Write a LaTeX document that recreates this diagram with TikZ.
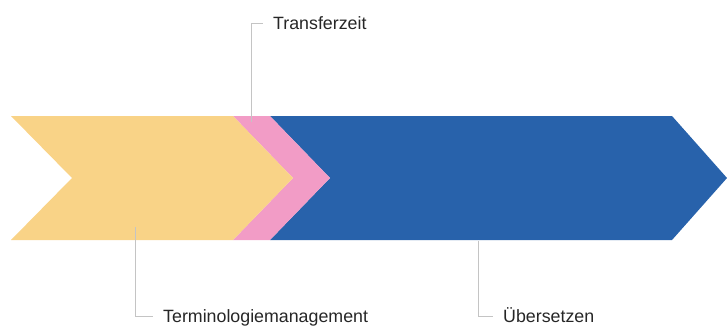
\documentclass[tikz,border=0pt]{standalone}
\usepackage{fontspec}
\setmainfont{Liberation Sans}
\definecolor{cyellow}{HTML}{F9D387}
\definecolor{cpink}{HTML}{F29CC6}
\definecolor{cblue}{HTML}{2862AB}
\definecolor{cline}{HTML}{C4C4C4}
\definecolor{ctext}{HTML}{262626}
\tikzset{
  callout/.style={draw=cline, line width=0.9pt},
  lbl/.style={anchor=west, inner xsep=10pt, inner ysep=0pt, text height=13pt, text depth=0pt,
    font=\fontsize{17.8}{20}\selectfont, text=ctext},
}
\begin{document}
\begin{tikzpicture}[x=1pt,y=-1pt]
\useasboundingbox (0,0) rectangle (727,326);
% blue chevron
\fill[cblue] (270,116) -- (672,116) -- (727,178) -- (672,240) -- (270,240) -- (330,178) -- cycle;
% pink band
\fill[cpink] (233,116) -- (270,116) -- (330,178) -- (270,240) -- (233,240) -- (293,178) -- cycle;
% yellow chevron
\fill[cyellow] (11,116) -- (233,116) -- (293,178) -- (233,240) -- (11,240) -- (72,178) -- cycle;
% labels
\node[lbl] (tz) at (263,23) {Transferzeit};
\node[lbl] (tm) at (153,316) {Terminologiemanagement};
\node[lbl] (ub) at (493,316) {Übersetzen};
% callout anchors
\coordinate (ptz) at (251,122);
\coordinate (ptm) at (135,227);
\coordinate (pub) at (478,241);
\draw[callout] (ptz) |- (tz.west);
\draw[callout] (ptm) |- (tm.west);
\draw[callout] (pub) |- (ub.west);
\end{tikzpicture}
\end{document}
